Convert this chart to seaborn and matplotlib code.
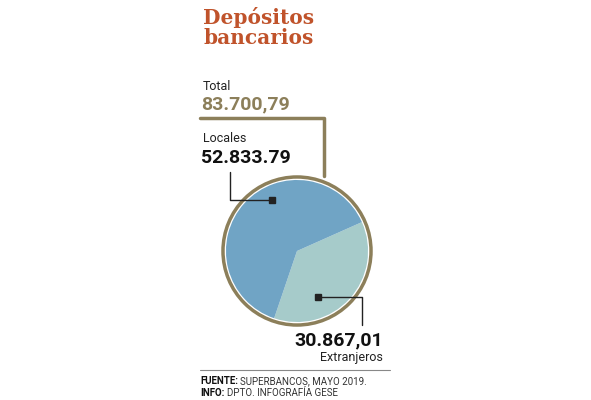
import matplotlib
matplotlib.use("Agg")
import matplotlib.pyplot as plt
import seaborn as sns
from matplotlib.patches import Circle
from matplotlib.lines import Line2D

sns.set_theme(style="white")
plt.rcParams['font.family'] = ['Roboto', 'DejaVu Sans']

labels = ["Extranjeros", "Locales"]
values = [30867.01, 52833.79]
value_texts = ["30.867,01", "52.833.79"]
total_text = "83.700,79"
colors = ["#a6cbca", "#70a4c5"]
olive = "#8c7f5a"

W, H = 591, 400
fig = plt.figure(figsize=(W/100, H/100), dpi=100)
def fx(x): return x / W
def fy(y): return 1 - y / H

cx, cy = 297, 251
ax = fig.add_axes([fx(cx - 80), fy(cy + 80), 160 / W, 160 / H])
ax.pie(values, colors=colors, startangle=24, counterclock=False, radius=0.95,
       wedgeprops=dict(linewidth=0))
ax.add_patch(Circle((0, 0), 0.99, fill=False, edgecolor=olive, lw=2.5))
ax.set_xlim(-1.07, 1.07); ax.set_ylim(-1.07, 1.07); ax.set_aspect('equal'); ax.axis('off')

t = fig.text
t(fx(203), fy(28), "Depósitos\nbancarios", color="#c0532b", fontsize=14.5, fontweight='bold',
  va='center', linespacing=1.0, family=['DejaVu Serif'])
t(fx(203), fy(86), "Total", fontsize=9, va='center', color="#222")
t(fx(201), fy(104), total_text, fontsize=14, fontweight='bold', va='center', color=olive)
t(fx(203), fy(139), "Locales", fontsize=9, va='center', color="#222")
t(fx(201), fy(158), value_texts[1], fontsize=14, fontweight='bold', va='center', color="#111")
t(fx(383), fy(340), value_texts[0], fontsize=14, fontweight='bold', va='center', ha='right', color="#111")
t(fx(383), fy(358), labels[0], fontsize=9, va='center', ha='right', color="#222")

def line(xs, ys, c="#222", lw=1, marker=None):
    fig.add_artist(Line2D([fx(x) for x in xs], [fy(y) for y in ys], color=c, lw=lw,
                          marker=marker, markevery=[len(xs)-1] if marker else None, markersize=4))
line([200, 324, 324], [118, 118, 176], c=olive, lw=2.5)
line([230, 230, 272], [172, 200, 200], marker='s')
line([362, 362, 318], [325, 297, 297], marker='s')
line([200, 390], [370, 370], c="#888", lw=0.8)

t(fx(200), fy(381), "FUENTE:", fontsize=7, fontweight='bold', va='center', color="#111")
t(fx(240), fy(381), "SUPERBANCOS, MAYO 2019.", fontsize=7, va='center', color="#333")
t(fx(200), fy(393), "INFO:", fontsize=7, fontweight='bold', va='center', color="#111")
t(fx(227), fy(393), "DPTO. INFOGRAFÍA GESE", fontsize=7, va='center', color="#333")

fig.savefig("out.png", dpi=100)
